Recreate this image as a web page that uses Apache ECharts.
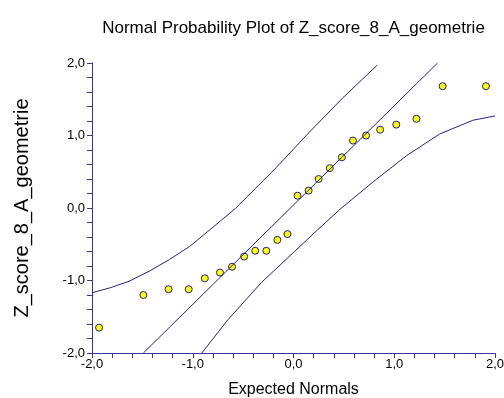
<!DOCTYPE html>
<html>
<head>
<meta charset="utf-8">
<script src="https://cdn.jsdelivr.net/npm/echarts@6/dist/echarts.min.js"></script>
<style>html,body{margin:0;padding:0;background:#fff}#c{width:504px;height:398px}</style>
</head>
<body>
<div id="c"></div>
<script>
var expectedNormals = [-1.93,-1.49,-1.24,-1.04,-0.88,-0.73,-0.61,-0.49,-0.38,-0.27,-0.16,-0.06,0.04,0.15,0.25,0.36,0.48,0.59,0.72,0.86,1.02,1.22,1.48,1.91];
var zScores = [-1.65,-1.20,-1.12,-1.12,-0.97,-0.89,-0.81,-0.67,-0.59,-0.59,-0.44,-0.36,0.17,0.24,0.40,0.55,0.70,0.93,1.00,1.08,1.15,1.23,1.68,1.68];
var refX = [-1.49, 1.43];
var refY = [-2.0, 2.0];
var upperX = [-2.0,-1.82,-1.63,-1.43,-1.23,-1.03,-0.83,-0.58,-0.17,0.16,0.49,0.83];
var upperY = [-1.17,-1.10,-1.01,-0.87,-0.71,-0.53,-0.30,-0.01,0.56,1.05,1.52,1.97];
var lowerX = [-0.91,-0.65,-0.32,0.01,0.24,0.46,0.79,1.12,1.45,1.78,2.0];
var lowerY = [-2.0,-1.54,-1.03,-0.60,-0.30,-0.02,0.36,0.72,1.02,1.21,1.27];
var tickLabels = ['-2,0','-1,0','0,0','1,0','2,0'];

function zip(a, b) { return a.map(function (v, i) { return [v, b[i]]; }); }
function fmt(v) { var i = Math.round(v + 2); return tickLabels[i] !== undefined ? tickLabels[i] : ''; }

var axisColor = '#3434a4';
var curveColor = '#22228c';
var font = 'Liberation Sans, Arial, sans-serif';

function axis(name, gap, nameSize, rot) {
  return {
    type: 'value', min: -2, max: 2, interval: 1,
    name: name, nameLocation: 'middle', nameGap: gap,
    nameTextStyle: { fontSize: nameSize, color: '#000', fontFamily: font },
    axisLine: { show: true, onZero: false, lineStyle: { color: axisColor, width: 1 } },
    axisTick: { show: true, inside: false, length: 5, lineStyle: { color: axisColor } },
    minorTick: { show: true, splitNumber: 5, length: 5, lineStyle: { color: axisColor } },
    splitLine: { show: false },
    minorSplitLine: { show: false },
    axisLabel: { formatter: fmt, color: '#000', fontSize: 13, fontFamily: font, margin: rot ? 7 : 5 }
  };
}

var chart = echarts.init(document.getElementById('c'), null, { renderer: 'canvas' });
chart.setOption({
  animation: false,
  backgroundColor: '#fff',
  title: {
    text: 'Normal Probability Plot of Z_score_8_A_geometrie',
    left: 293.5, top: 20, padding: 0, textAlign: 'center',
    textStyle: { fontSize: 17, fontWeight: 'normal', color: '#000', fontFamily: font }
  },
  grid: { left: 92, right: 9, top: 63, bottom: 45, containLabel: false, outerBoundsMode: 'none' },
  xAxis: axis('Expected Normals', 29, 16, false),
  yAxis: axis('Z_score_8_A_geometrie', 60, 20, true),
  series: [
    { type: 'scatter', data: zip(expectedNormals, zScores), symbolSize: 7,
      itemStyle: { color: '#ffff00', borderColor: '#20208a', borderWidth: 1, opacity: 1 } },
    { type: 'line', data: zip(refX, refY), showSymbol: false, symbol: 'none',
      lineStyle: { color: curveColor, width: 1 } },
    { type: 'line', data: zip(upperX, upperY), showSymbol: false, symbol: 'none', smooth: false,
      lineStyle: { color: curveColor, width: 1 } },
    { type: 'line', data: zip(lowerX, lowerY), showSymbol: false, symbol: 'none', smooth: false,
      lineStyle: { color: curveColor, width: 1 } }
  ]
});
</script>
</body>
</html>
